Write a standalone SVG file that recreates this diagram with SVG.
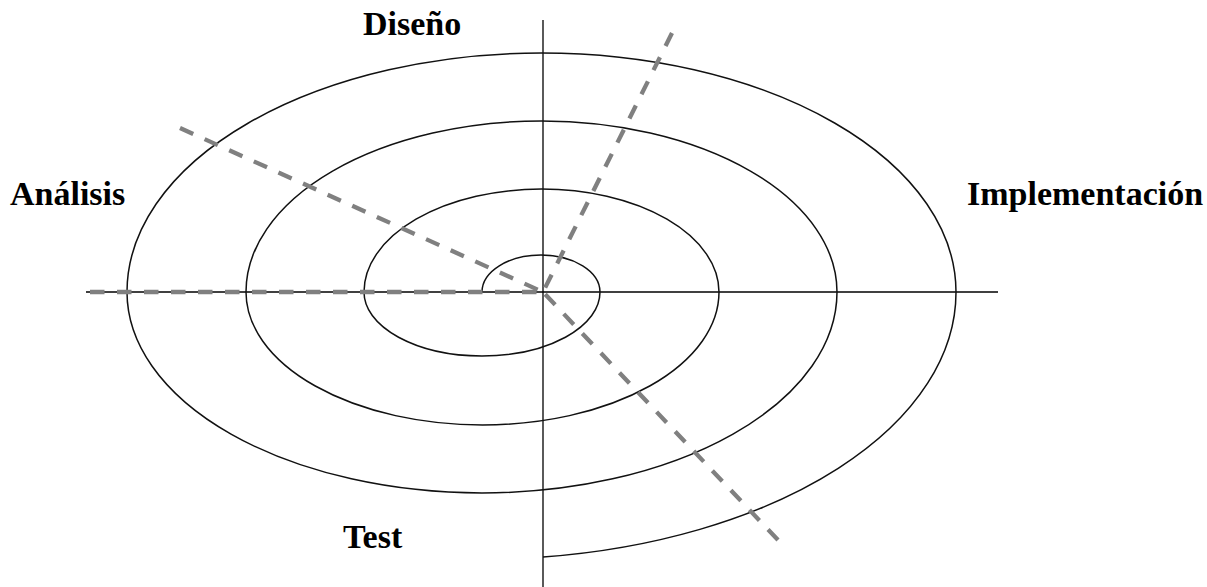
<svg xmlns="http://www.w3.org/2000/svg" width="1207" height="587" viewBox="0 0 1207 587">
<style>
.axis{stroke:#000;stroke-width:1.3;fill:none}
.spiral{stroke:#111;stroke-width:1.5;fill:none}
.dash{stroke:#808080;stroke-width:4.3;fill:none;stroke-dasharray:14.5 12.5}
.lbl{font-family:"Liberation Serif","Times New Roman",serif;font-weight:bold;font-size:34px;fill:#000}
</style>
<rect width="1207" height="587" fill="#fff"/>
<g id="connectors">
<line class="axis" x1="86" y1="292" x2="998" y2="292"/>
<line class="axis" x1="543" y1="20" x2="543" y2="587"/>
<path id="spiral" class="spiral" d="M 482 292 A 59 37 0 0 1 600 292 A 118 64 0 0 1 364 292 A 177.5 103 0 0 1 719 292 A 236.5 133 0 0 1 246 292 A 295.5 171 0 0 1 837 292 A 355 201 0 0 1 127 292 A 414.5 239 0 0 1 956 292 A 474 267 0 0 1 543 557"/>
<line class="dash" x1="90" y1="292" x2="543" y2="292"/>
<line class="dash" x1="180" y1="128" x2="543" y2="292"/>
<line class="dash" x1="672" y1="33" x2="543" y2="292"/>
<line class="dash" x1="778" y1="540" x2="543" y2="292"/>
</g>
<g id="node-diseno"><text class="lbl" x="363" y="35">Diseño</text></g>
<g id="node-analisis"><text class="lbl" x="10" y="205">Análisis</text></g>
<g id="node-implementacion"><text class="lbl" x="967" y="205">Implementación</text></g>
<g id="node-test"><text class="lbl" x="343" y="548">Test</text></g>
</svg>
